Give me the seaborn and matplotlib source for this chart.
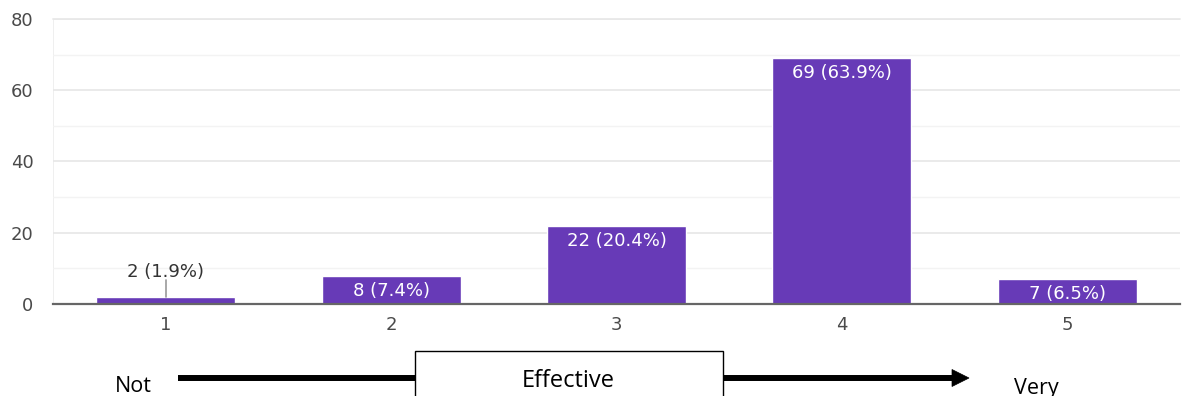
import matplotlib
matplotlib.use("Agg")
import matplotlib.pyplot as plt
import matplotlib.patches as mpatches
from matplotlib.lines import Line2D
from matplotlib.ticker import MultipleLocator
import seaborn as sns
import pandas as pd

# Survey responses per rating
ratings = ["1", "2", "3", "4", "5"]
counts = [2, 8, 22, 69, 7]
percents = ["1.9%", "7.4%", "20.4%", "63.9%", "6.5%"]
y_ticks = [0, 20, 40, 60, 80]
scale_low = "Not"
scale_mid = "Effective"
scale_high = "Very"

BAR_COLOR = "#673AB7"
W, H = 1184, 396


def fx(px):
    return px / W


def fy(py):
    return 1 - py / H


sns.set_theme(style="white")
plt.rcParams["font.family"] = ["DejaVu Sans"]

fig = plt.figure(figsize=(W / 100, H / 100), dpi=100)
ax = fig.add_axes([fx(53), fy(304), (1180 - 53) / W, (304 - 19) / H])

df = pd.DataFrame({"rating": ratings, "count": counts})
sns.barplot(data=df, x="rating", y="count", color=BAR_COLOR, saturation=1,
            width=0.617, ax=ax, zorder=3)

ax.set_xlim(-0.5, 4.5)
ax.set_ylim(0, 80)
ax.set_xlabel("")
ax.set_ylabel("")
ax.set_yticks(y_ticks)
ax.yaxis.set_minor_locator(MultipleLocator(10))
ax.grid(axis="y", which="major", color="#e8e8e8", lw=1.3, zorder=0)
ax.grid(axis="y", which="minor", color="#f3f3f3", lw=1.0, zorder=0)
ax.tick_params(axis="both", which="both", length=0, labelsize=13,
               colors="#4a4a4a")
ax.tick_params(axis="y", pad=14)
ax.tick_params(axis="x", pad=9)
for side in ["top", "right", "left"]:
    ax.spines[side].set_visible(False)
ax.spines["bottom"].set_color("#666666")
ax.spines["bottom"].set_linewidth(1.6)
ax.spines["bottom"].set_zorder(4)
ax.axvline(-0.5, color="#eeeeee", lw=1.3, zorder=0)
ax.axhline(80, color="#e8e8e8", lw=1.3, zorder=0, clip_on=False)

# Value labels: inside the bar where it fits, above with a leader otherwise
px_per_unit = (304 - 19) / 80
for i, (c, p) in enumerate(zip(counts, percents)):
    label = f"{c} ({p})"
    if c >= 5:
        ax.text(i, c - 20 / px_per_unit, label, ha="center", va="baseline",
                color="white", fontsize=13, zorder=5)
    else:
        ax.plot([i, i], [c, c + 17 / px_per_unit], color="#999999", lw=1.2,
                zorder=5)
        ax.text(i, c + 20 / px_per_unit, label, ha="center", va="baseline",
                color="#333333", fontsize=13, zorder=5)

# Effectiveness scale below the chart
scale_font = ["Open Sans", "DejaVu Sans"]
fig.text(fx(115), fy(392), scale_low, ha="left", va="baseline",
         fontsize=15.5, family=scale_font, color="black")
fig.text(fx(1014), fy(394), scale_high, ha="left", va="baseline",
         fontsize=15.5, family=scale_font, color="black")
fig.add_artist(Line2D([fx(178), fx(954)], [fy(378), fy(378)],
                      transform=fig.transFigure, lw=4.3, color="black",
                      solid_capstyle="butt"))
fig.add_artist(mpatches.Polygon(
    [(fx(952), fy(369.5)), (fx(969), fy(378)), (fx(952), fy(386.5))],
    closed=True, transform=fig.transFigure, facecolor="black",
    edgecolor="black", lw=0.5))
fig.add_artist(mpatches.Rectangle(
    (fx(415), -0.05), (723 - 415) / W, (396 - 351) / H + 0.05,
    transform=fig.transFigure, facecolor="white", edgecolor="black",
    lw=1.0, zorder=5))
fig.text(fx(568), fy(387), scale_mid, ha="center", va="baseline",
         fontsize=17, family=scale_font, color="black", zorder=6)

fig.savefig("out.png", dpi=100)
